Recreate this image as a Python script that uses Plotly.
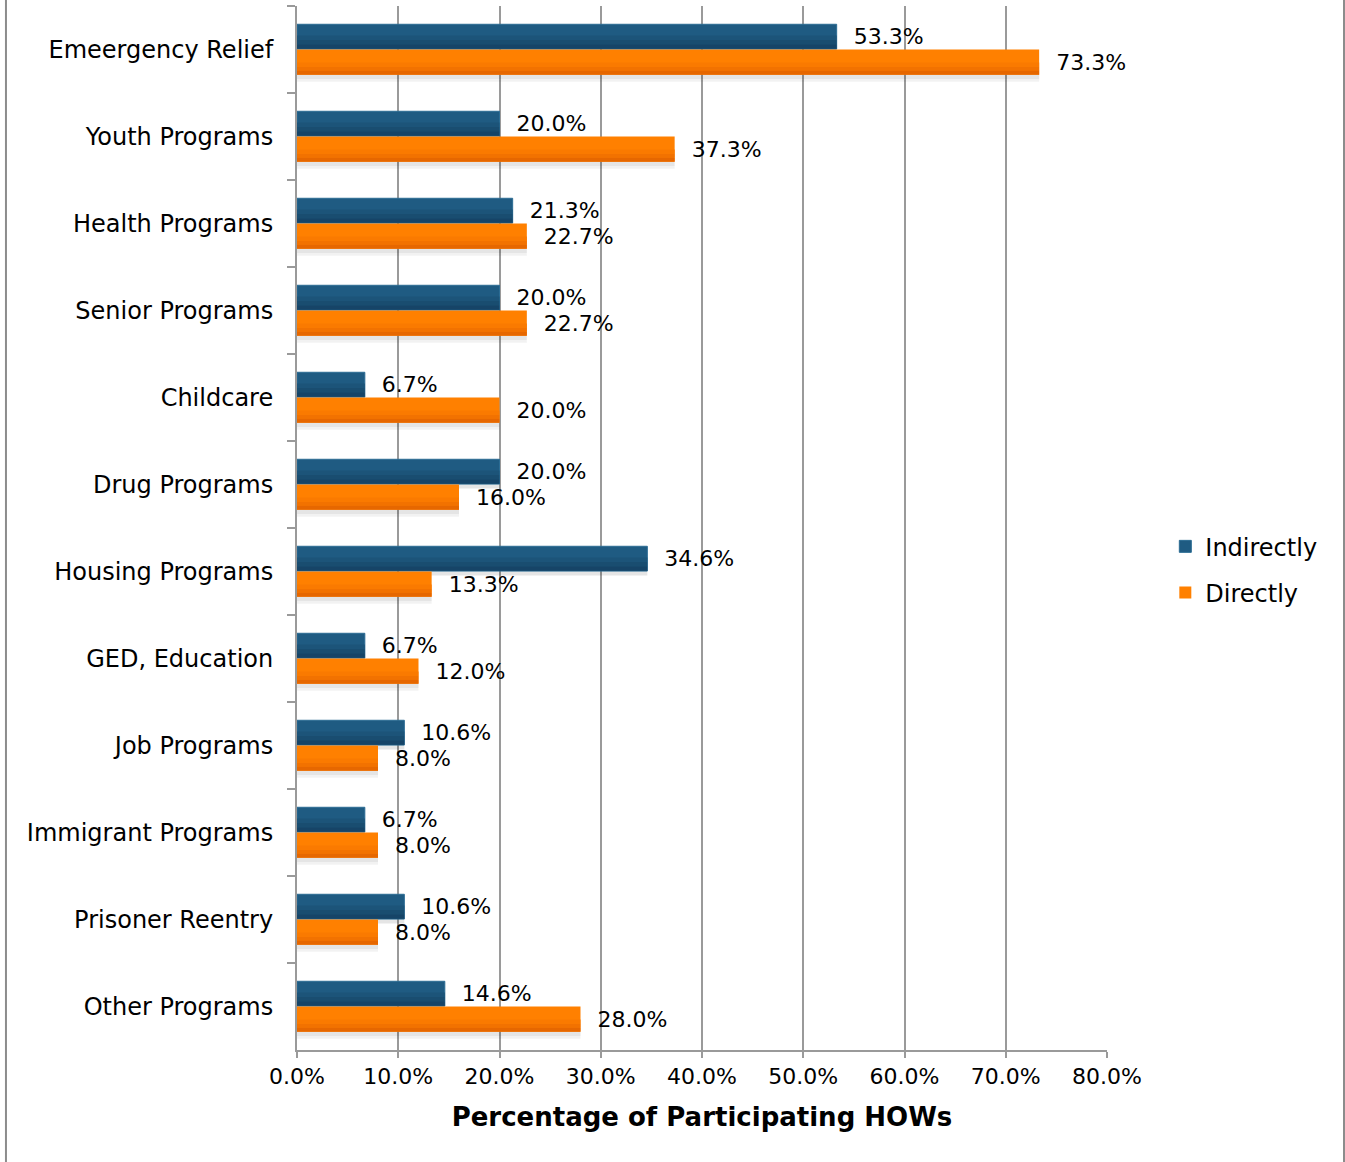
import plotly.graph_objects as go

# Program categories, top to bottom
categories = [
    "Emeergency Relief", "Youth Programs", "Health Programs", "Senior Programs",
    "Childcare", "Drug Programs", "Housing Programs", "GED, Education",
    "Job Programs", "Immigrant Programs", "Prisoner Reentry", "Other Programs",
]
# Percentage of participating HOWs offering each program
indirectly = [53.3, 20.0, 21.3, 20.0, 6.7, 20.0, 34.6, 6.7, 10.6, 6.7, 10.6, 14.6]
directly = [73.3, 37.3, 22.7, 22.7, 20.0, 16.0, 13.3, 12.0, 8.0, 8.0, 8.0, 28.0]
x_ticks = [0, 10, 20, 30, 40, 50, 60, 70, 80]
x_tick_labels = ["0.0%", "10.0%", "20.0%", "30.0%", "40.0%", "50.0%", "60.0%", "70.0%", "80.0%"]

FONT = "DejaVu Sans, Verdana, sans-serif"
BLUE = "#1F5B82"
BLUE_EDGE = "#2B6C94"
BLUE_SHADES = ["#1C5479", "#194D70", "#164467"]
ORANGE = "#FF8000"
ORANGE_SHADES = ["#FA7A00", "#F27200", "#E66700"]
GRID = "#9A9A9A"

W_BAR = 0.29
NBSP = "\u00a0\u00a0"

fig = go.Figure()


def strip(values, offset, width, color):
    """Decorative band layered over a series to give the bars depth."""
    fig.add_trace(go.Bar(
        y=categories, x=values, orientation="h",
        offset=offset, width=width,
        marker=dict(color=color, line=dict(width=0)),
        showlegend=False, hoverinfo="skip",
    ))


# soft drop shadows
strip(indirectly, -0.005, 0.05, "rgba(0,0,0,0.10)")
strip(directly, W_BAR, 0.05, "rgba(0,0,0,0.10)")
strip(directly, W_BAR + 0.05, 0.03, "rgba(0,0,0,0.05)")

# Indirectly series
fig.add_trace(go.Bar(
    name="Indirectly", legendgroup="ind",
    y=categories, x=indirectly, orientation="h",
    offset=-W_BAR, width=W_BAR - 0.005,
    marker=dict(color=BLUE, line=dict(color=BLUE_EDGE, width=1)),
    text=[f"{NBSP}{v:.1f}%" for v in indirectly],
    textposition="outside", constraintext="none", cliponaxis=False,
    textfont=dict(family=FONT, size=22, color="#000000"),
))
for off, w, c in zip([-0.16, -0.11, -0.06], [0.05, 0.05, 0.05], BLUE_SHADES):
    strip(indirectly, off, w, c)

# Directly series
fig.add_trace(go.Bar(
    name="Directly", legendgroup="dir",
    y=categories, x=directly, orientation="h",
    offset=0.0, width=W_BAR,
    marker=dict(color=ORANGE, line=dict(width=0)),
    text=[f"{NBSP}{v:.1f}%" for v in directly],
    textposition="outside", constraintext="none", cliponaxis=False,
    textfont=dict(family=FONT, size=22, color="#000000"),
))
for off, w, c in zip([0.15, 0.20, 0.245], [0.05, 0.045, 0.045], ORANGE_SHADES):
    strip(directly, off, w, c)

fig.update_layout(
    width=1345, height=1162,
    margin=dict(l=297, r=238, t=6, b=112),
    paper_bgcolor="white", plot_bgcolor="white",
    barmode="overlay",
    font=dict(family=FONT, size=22, color="#000000"),
    showlegend=True,
    legend=dict(
        x=1.072, xanchor="left", y=0.46, yanchor="middle",
        font=dict(family=FONT, size=24, color="#000000"),
        tracegroupgap=12, bgcolor="rgba(0,0,0,0)",
    ),
    xaxis=dict(
        range=[0, 80], tickvals=x_ticks, ticktext=x_tick_labels,
        showgrid=True, gridcolor=GRID, gridwidth=1.5,
        showline=True, linecolor=GRID, linewidth=2,
        ticks="outside", ticklen=6, tickcolor=GRID, tickwidth=1.5,
        zeroline=False,
        tickfont=dict(family=FONT, size=22),
        title=dict(text="<b>Percentage of Participating HOWs</b>",
                   font=dict(family=FONT, size=26), standoff=19),
    ),
    yaxis=dict(
        type="category", autorange="reversed",
        showline=True, linecolor=GRID, linewidth=2,
        ticks="outside", ticklen=8, tickcolor=GRID, tickwidth=1.5,
        tickson="boundaries", showgrid=False, zeroline=False,
        tickfont=dict(family=FONT, size=24),
        ticklabelstandoff=17,
    ),
    shapes=[
        dict(type="line", xref="paper", yref="paper",
             x0=-0.3593, x1=-0.3593, y0=-0.108, y1=1.006,
             line=dict(color="#8C8C8C", width=2)),
        dict(type="line", xref="paper", yref="paper",
             x0=1.2926, x1=1.2926, y0=-0.108, y1=1.006,
             line=dict(color="#8C8C8C", width=2)),
    ],
)

fig.write_html("out.html")
